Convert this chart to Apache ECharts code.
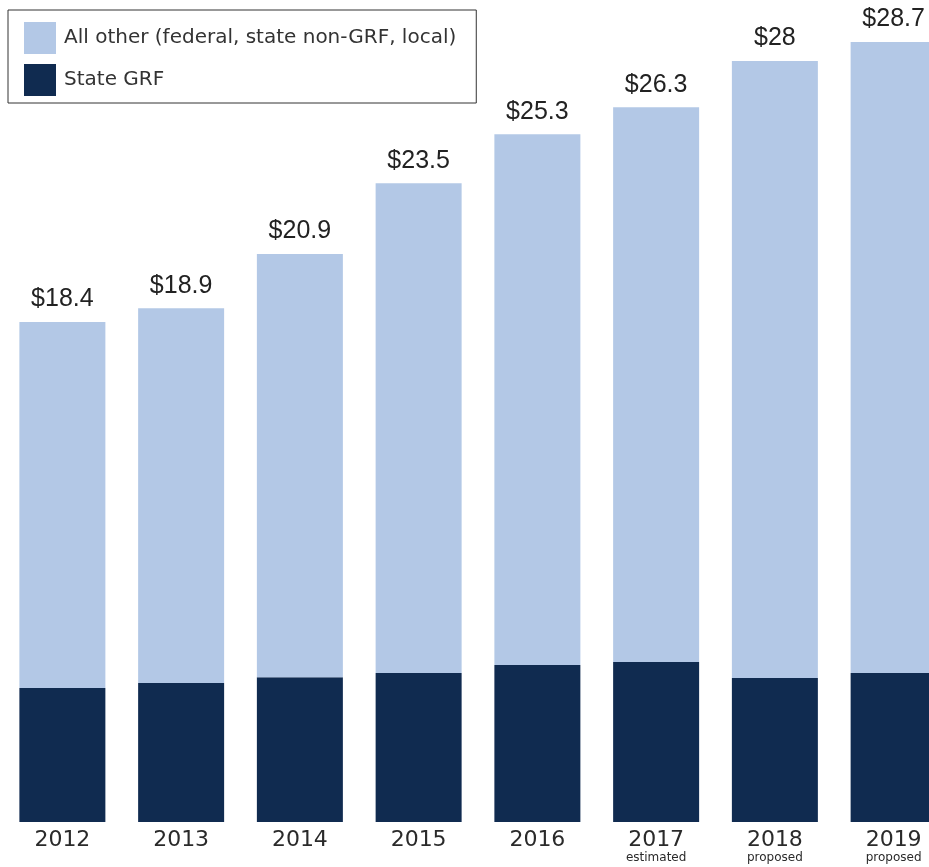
<!DOCTYPE html>
<html>
<head>
<meta charset="utf-8">
<script src="https://cdn.jsdelivr.net/npm/echarts@6/dist/echarts.min.js"></script>
<style>html,body{margin:0;padding:0;background:#fff;overflow:hidden;width:929px;height:867px}#c{width:953px;height:867px}</style>
</head>
<body>
<div id="c"></div>
<script>
const years = ['2012','2013','2014','2015','2016','2017','2018','2019'];
const yearNotes = ['','','','','','estimated','proposed','proposed'];
const totals = [18.4, 18.9, 20.9, 23.5, 25.3, 26.3, 28, 28.7];
const stateGRF = [4.93, 5.11, 5.33, 5.48, 5.78, 5.89, 5.30, 5.48];
const allOther = [13.47, 13.79, 15.57, 18.02, 19.52, 20.41, 22.70, 23.22];

const chart = echarts.init(document.getElementById('c'), null, {renderer:'canvas'});
const gothic = '"DejaVu Sans", sans-serif';
chart.setOption({
  animation:false,
  backgroundColor:'#fff',
  legend:{
    left:8, top:10, orient:'vertical',
    data:['All other (federal, state non-GRF, local)','State GRF'],
    itemWidth:32, itemHeight:32, itemGap:10,
    icon:'rect',
    borderColor:'#333', borderWidth:1,
    padding:[12,20,7,16],
    textStyle:{fontFamily:gothic, fontSize:20, color:'#333', padding:[0,0,0,3]}
  },
  grid:{left:3, right:0, top:6.6, bottom:45, containLabel:false},
  xAxis:{
    type:'category', data:years,
    axisLine:{show:false}, axisTick:{show:false},
    axisLabel:{
      margin:6, interval:0,
      formatter:(v,i)=> yearNotes[i] ? '{y|'+v+'}\n{n|'+yearNotes[i]+'}' : '{y|'+v+'}',
      rich:{
        y:{fontFamily:gothic, fontSize:22, color:'#2a2a2a', lineHeight:24},
        n:{fontFamily:gothic, fontSize:12, color:'#2a2a2a', lineHeight:12}
      }
    }
  },
  yAxis:{type:'value', min:0, max:30, show:false, splitLine:{show:false}},
  series:[
    {name:'State GRF', type:'bar', stack:'t', data:stateGRF, barWidth:86,
     itemStyle:{color:'#102b50'}},
    {name:'All other (federal, state non-GRF, local)', type:'bar', stack:'t', data:allOther, barWidth:86,
     itemStyle:{color:'#b3c8e6'},
     label:{show:true, position:'top', distance:10,
       formatter:p=>'$'+totals[p.dataIndex],
       fontFamily:'"Liberation Sans", Arial, sans-serif', fontSize:25, color:'#222'}}
  ]
});
</script>
</body>
</html>
